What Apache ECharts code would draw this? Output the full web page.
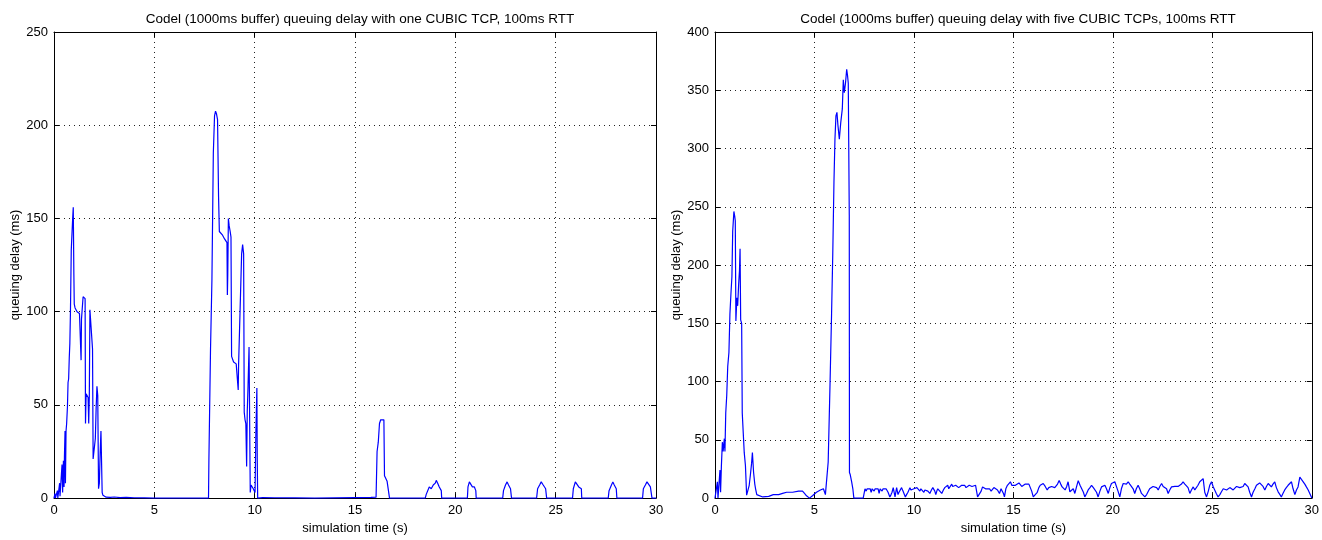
<!DOCTYPE html>
<html>
<head>
<meta charset="utf-8">
<script src="https://cdn.jsdelivr.net/npm/echarts@6/dist/echarts.min.js"></script>
<style>html,body{margin:0;padding:0;background:#fff}#c{width:1322px;height:540px}</style>
</head>
<body>
<div id="c"></div>
<script>
const leftTitle = "Codel (1000ms buffer) queuing delay with one CUBIC TCP, 100ms RTT";
const rightTitle = "Codel (1000ms buffer) queuing delay with five CUBIC TCPs, 100ms RTT";
const xLabel = "simulation time (s)";
const yLabel = "queuing delay (ms)";
const xTicks = [0, 5, 10, 15, 20, 25, 30];
const leftYTicks = [0, 50, 100, 150, 200, 250];
const rightYTicks = [0, 50, 100, 150, 200, 250, 300, 350, 400];

// one CUBIC TCP: [time s, delay ms]
const leftDelay = [
[0,0],[0.04,0],[0.05,2.5],[0.07,0],[0.15,0],[0.17,4],[0.19,0],[0.25,0],[0.28,8],[0.3,1],[0.38,2],[0.4,18],[0.43,3],[0.47,20],[0.5,6],[0.52,22],[0.55,36],[0.57,8],[0.6,36],[0.63,40],[0.67,49],[0.7,62],[0.73,64],[0.76,75],[0.79,83],[0.82,100],[0.86,133],[0.9,134],[0.93,150],[0.96,156],[0.99,120],[1.01,104],[1.05,102],[1.1,101],[1.15,100],[1.2,100.5],[1.27,99],[1.32,98],[1.35,74],[1.37,96],[1.42,96],[1.45,108],[1.5,107],[1.55,107],[1.57,40],[1.6,56],[1.65,56],[1.7,54],[1.73,40],[1.76,55],[1.79,101],[1.83,101],[1.88,100],[1.92,80],[1.95,21],[1.99,22],[2.03,20],[2.06,32],[2.1,48],[2.14,60],[2.18,55],[2.22,5],[2.26,8],[2.3,24],[2.34,36],[2.38,36],[2.4,3],[2.44,1.5],[2.5,0.8],[2.6,0.5],[2.8,0.4],[3,0.6],[3.3,0.3],[3.6,0.4],[4,0.2],[4.5,0.1],[5,0],[7.7,0],[7.72,21],[7.75,21],[7.8,80],[7.87,117],[7.94,185],[8.0,205],[8.05,207.5],[8.1,206],[8.15,203],[8.2,162],[8.24,143],[8.3,142],[8.4,141],[8.5,139],[8.58,138],[8.62,137],[8.64,109],[8.66,120],[8.69,150],[8.73,146],[8.78,143],[8.82,140],[8.85,76],[8.9,75],[8.95,73],[9.0,74],[9.08,72],[9.15,72],[9.18,58],[9.2,72],[9.25,72],[9.35,131],[9.4,136],[9.45,131],[9.48,46],[9.52,42],[9.56,40],[9.6,17],[9.63,46],[9.67,60],[9.72,81],[9.75,80],[9.78,3],[9.82,7],[9.87,6],[9.93,5],[9.98,6],[10.02,3],[10.06,35],[10.11,59],[10.13,20],[10.15,0],[10.4,0.3],[11,0.2],[12,0.1],[13,0],[15,0.3],[15.8,0.4],[16.05,0.5],[16.1,25],[16.16,30],[16.22,40],[16.28,42],[16.35,43],[16.44,42],[16.47,12],[16.5,11],[16.6,9],[16.68,9],[16.72,0],[18.5,0],[18.55,2],[18.62,3],[18.7,6],[18.8,5],[18.9,7],[19.0,8],[19.05,9.5],[19.12,8],[19.2,6],[19.3,4],[19.32,0],[20.6,0],[20.63,6],[20.7,8.7],[20.78,8],[20.85,6],[20.95,6],[21.02,4],[21.04,0],[22.36,0],[22.4,4],[22.5,7],[22.58,8.7],[22.65,7],[22.75,5],[22.8,0],[24.05,0],[24.1,5],[24.2,7],[24.28,8.7],[24.38,7],[24.5,5],[24.55,0],[25.84,0],[25.88,5],[25.98,8.7],[26.05,8],[26.15,6],[26.28,5],[26.3,0],[27.62,0],[27.66,4],[27.78,7],[27.85,8.7],[27.92,7],[28.02,5],[28.05,0],[29.33,0],[29.37,5],[29.47,7],[29.55,8.7],[29.62,8],[29.72,6],[29.78,5],[29.8,0],[30,0]
];

// five CUBIC TCPs: [time s, delay ms]
const rightDelay = [
[0,0],[0.1,0],[0.12,14],[0.15,0],[0.2,12],[0.25,24],[0.28,5],[0.32,27],[0.37,48],[0.41,40],[0.45,48],[0.47,51],[0.5,40],[0.54,73],[0.59,88],[0.64,113],[0.7,125],[0.75,158],[0.8,175],[0.85,190],[0.89,229],[0.95,246],[0.99,242],[1.02,238],[1.05,152],[1.1,172],[1.14,165],[1.19,184],[1.23,195],[1.26,214],[1.29,153],[1.34,150],[1.37,73],[1.42,56],[1.47,39],[1.53,28],[1.59,2.5],[1.65,4],[1.72,11],[1.78,20],[1.84,30],[1.88,39],[1.94,22],[2.0,12],[2.04,8],[2.1,3],[2.2,2],[2.4,1],[2.7,1.5],[2.93,3],[3.2,3],[3.4,4],[3.6,5],[3.9,5],[4.2,6],[4.4,6],[4.5,4],[4.6,2],[4.75,0],[4.9,2],[5.1,5],[5.3,7],[5.45,8],[5.55,3],[5.62,2],[5.69,31],[5.78,96],[5.86,158],[5.92,209],[5.98,271],[6.03,308],[6.08,328],[6.13,331],[6.18,320],[6.25,308],[6.32,322],[6.4,334],[6.45,359],[6.5,348],[6.56,356],[6.62,368],[6.66,363],[6.7,356],[6.75,243],[6.76,22],[6.8,20],[6.87,14],[6.93,8],[6.98,0],[7.45,0],[7.54,8],[7.6,6],[7.65,8],[7.7,7],[7.8,8],[7.85,5],[7.9,8],[8.0,6],[8.05,8],[8.1,7],[8.2,8],[8.25,4],[8.3,8],[8.4,6],[8.45,8],[8.5,7],[8.6,8],[8.7,5],[8.79,1],[8.85,3],[8.9,5],[8.96,9],[9.05,1],[9.13,9],[9.2,3],[9.25,5],[9.3,6],[9.38,9],[9.45,6],[9.5,4],[9.57,1],[9.63,3],[9.7,5],[9.8,9],[9.85,7],[9.9,8],[9.95,6],[10.0,8],[10.1,7],[10.15,9],[10.2,8],[10.3,6],[10.35,8],[10.4,8],[10.5,5],[10.55,7],[10.6,8],[10.7,6],[10.8,4],[10.88,7],[10.95,9],[11.05,6],[11.1,3],[11.15,6],[11.2,8],[11.3,6],[11.4,4],[11.48,7],[11.55,9],[11.62,8],[11.7,11],[11.75,8],[11.8,9],[11.9,12],[11.95,10],[12.0,10],[12.05,11],[12.1,11],[12.2,11],[12.25,9],[12.3,9],[12.4,11],[12.45,10],[12.55,11],[12.62,9],[12.7,9.6],[12.78,11],[12.85,11],[12.92,10],[13.0,10.5],[13.1,11],[13.15,6],[13.2,1],[13.3,1],[13.38,6],[13.45,9.6],[13.52,8],[13.6,8],[13.7,9],[13.8,8],[13.88,6],[13.95,7],[14.02,9],[14.1,9.6],[14.2,7],[14.3,4],[14.38,8],[14.45,8],[14.5,4],[14.55,1],[14.62,8],[14.7,11],[14.78,12],[14.85,14],[14.92,11],[15.0,12.5],[15.1,11],[15.2,11],[15.28,13],[15.35,12.5],[15.42,10],[15.5,11],[15.6,12],[15.7,11],[15.78,12],[15.85,11],[15.92,6],[16.0,1],[16.1,3],[16.2,5],[16.28,9],[16.35,11],[16.42,10],[16.5,12.5],[16.6,10],[16.7,7],[16.78,9],[16.85,8],[16.92,10],[17.0,11],[17.08,9],[17.15,9.6],[17.22,12],[17.3,15],[17.38,12],[17.45,9.6],[17.52,8],[17.6,7],[17.68,10],[17.75,14],[17.84,5.4],[17.92,7],[18.01,8],[18.09,4],[18.18,10],[18.26,15],[18.35,11],[18.43,9.6],[18.52,5],[18.59,1],[18.68,4],[18.76,7],[18.85,9],[18.93,11],[19.02,9],[19.1,8],[19.18,5],[19.26,1],[19.35,6],[19.43,9.6],[19.52,10],[19.6,11],[19.68,8],[19.77,4],[19.85,9],[19.93,12.5],[20.02,11],[20.1,14],[20.18,12.5],[20.26,6],[20.35,1],[20.43,8],[20.52,12.5],[20.6,11],[20.68,12],[20.77,14],[20.85,12],[20.94,11],[21.02,8],[21.1,4],[21.18,8],[21.27,11],[21.35,8],[21.44,4],[21.52,3],[21.61,1],[21.7,3],[21.77,5.4],[21.85,8],[21.94,9.6],[22.02,10],[22.11,11],[22.2,9],[22.28,7],[22.36,10],[22.45,12.5],[22.53,10],[22.61,11],[22.7,8],[22.78,4],[22.86,7],[22.95,9.6],[23.05,8],[23.12,10],[23.2,9.6],[23.28,10],[23.37,11],[23.45,12],[23.53,14],[23.62,12],[23.7,12.5],[23.78,9],[23.87,4],[23.95,7],[24.04,9.6],[24.12,7],[24.2,8],[24.28,11],[24.37,14],[24.46,15],[24.54,16.7],[24.62,5],[24.71,1],[24.8,6],[24.87,11],[24.96,14],[25.04,10],[25.12,7],[25.2,4],[25.29,1],[25.38,3],[25.46,5.4],[25.55,8],[25.63,9.6],[25.72,7],[25.8,8],[25.88,9],[25.96,9.6],[26.05,7],[26.13,8],[26.22,10],[26.3,11],[26.38,9],[26.47,8],[26.55,10],[26.63,12.5],[26.72,11],[26.8,9.6],[26.88,5],[26.97,1],[27.05,5],[27.14,8],[27.22,11],[27.3,12.5],[27.38,13],[27.47,14],[27.55,10],[27.64,7],[27.72,10],[27.81,12.5],[27.9,11],[27.97,9.6],[28.05,12],[28.14,14],[28.22,9],[28.31,5.4],[28.4,3],[28.47,1],[28.55,4],[28.64,7],[28.72,9],[28.81,11],[28.9,12],[28.98,14],[29.06,8],[29.15,3],[29.23,7],[29.31,9.6],[29.4,18],[29.48,16],[29.56,15],[29.65,12],[29.73,9.6],[29.82,7],[29.9,4],[29.98,1],[30,0]
];

const FONT = '"Liberation Sans", Arial, sans-serif';
const dotted = { color: '#222', width: 1, type: [1, 4] };

function xAxes(gi) {
  return [
    { gridIndex: gi, type: 'value', min: 0, max: 30, interval: 5, position: 'bottom',
      name: xLabel, nameLocation: 'middle', nameGap: 20,
      nameTextStyle: { fontFamily: FONT, fontSize: 13, color: '#000' },
      axisLine: { show: true, onZero: false, lineStyle: { color: '#000', width: 1 } },
      axisTick: { show: true, inside: true, length: 5, lineStyle: { color: '#000' } },
      axisLabel: { fontFamily: FONT, fontSize: 13, color: '#000', margin: 6,
        formatter: v => xTicks.includes(v) ? String(v) : '' },
      splitLine: { show: true, lineStyle: dotted } },
    { gridIndex: gi, type: 'value', min: 0, max: 30, interval: 5, position: 'top',
      axisLine: { show: true, onZero: false, lineStyle: { color: '#000', width: 1 } },
      axisTick: { show: true, inside: true, length: 5, lineStyle: { color: '#000' } },
      axisLabel: { show: false }, splitLine: { show: false } }
  ];
}
function yAxes(gi, max, ticks) {
  return [
    { gridIndex: gi, type: 'value', min: 0, max: max, interval: 50, position: 'left',
      name: yLabel, nameLocation: 'middle', nameGap: 28,
      nameTextStyle: { fontFamily: FONT, fontSize: 13, color: '#000' },
      axisLine: { show: true, onZero: false, lineStyle: { color: '#000', width: 1 } },
      axisTick: { show: true, inside: true, length: 5, lineStyle: { color: '#000' } },
      axisLabel: { fontFamily: FONT, fontSize: 13, color: '#000', margin: 6,
        formatter: v => ticks.includes(v) ? String(v) : '' },
      splitLine: { show: true, lineStyle: dotted } },
    { gridIndex: gi, type: 'value', min: 0, max: max, interval: 50, position: 'right',
      axisLine: { show: true, onZero: false, lineStyle: { color: '#000', width: 1 } },
      axisTick: { show: true, inside: true, length: 5, lineStyle: { color: '#000' } },
      axisLabel: { show: false }, splitLine: { show: false } }
  ];
}

const chart = echarts.init(document.getElementById('c'), null, { renderer: 'canvas' });
chart.setOption({
  animation: false,
  backgroundColor: '#fff',
  title: [
    { text: leftTitle, left: 355, top: 7, textAlign: 'center',
      textStyle: { fontFamily: FONT, fontSize: 13.5, fontWeight: 'normal', color: '#000' } },
    { text: rightTitle, left: 1013, top: 7, textAlign: 'center',
      textStyle: { fontFamily: FONT, fontSize: 13.5, fontWeight: 'normal', color: '#000' } }
  ],
  grid: [
    { left: 54, top: 32, width: 602, height: 471 },
    { left: 715, top: 32, width: 597, height: 471 }
  ],
  xAxis: [...xAxes(0), ...xAxes(1)],
  yAxis: [...yAxes(0, 250, leftYTicks), ...yAxes(1, 400, rightYTicks)],
  series: [
    { type: 'line', xAxisIndex: 0, yAxisIndex: 0, data: leftDelay, showSymbol: false,
      sampling: null, lineStyle: { color: '#0000ff', width: 1.2 }, z: 5 },
    { type: 'line', xAxisIndex: 2, yAxisIndex: 2, data: rightDelay, showSymbol: false,
      sampling: null, lineStyle: { color: '#0000ff', width: 1.2 }, z: 5 }
  ]
});
</script>
</body>
</html>
